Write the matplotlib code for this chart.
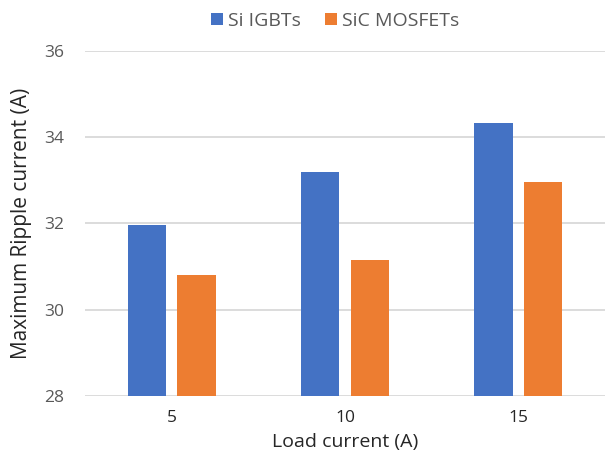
import numpy as np
import matplotlib.pyplot as plt

plt.rcParams['font.family'] = ['Open Sans', 'DejaVu Sans']

# Maximum ripple current for each load current
loads = ['5', '10', '15']
si_igbt = [31.96, 33.20, 34.33]
sic_mosfet = [30.80, 31.15, 32.95]

fig = plt.figure(figsize=(6.05, 4.58), dpi=100)
ax = fig.add_axes([0.1405, 0.1354, 0.8595, 0.7539])

x = np.arange(len(loads))
w = 0.221
ax.bar(x - 0.143, np.array(si_igbt) - 28, w, bottom=28, color='#4472C4', label='Si IGBTs', zorder=3)
ax.bar(x + 0.143, np.array(sic_mosfet) - 28, w, bottom=28, color='#ED7D31', label='SiC MOSFETs', zorder=3)

ax.set_xlim(-0.5, 2.5)
ax.set_ylim(28, 36)
ax.set_yticks([28, 30, 32, 34, 36])
ax.set_xticks(x)
ax.set_xticklabels(loads)
ax.tick_params(axis='y', length=0, labelsize=12.5, labelcolor='#595959', pad=15)
ax.tick_params(axis='x', length=0, labelsize=12.5, labelcolor='#262626', pad=10)
ax.grid(axis='y', color='#D9D9D9', linewidth=1.3, zorder=0)
for s in ax.spines.values():
    s.set_visible(False)

ax.set_xlabel('Load current (A)', fontsize=14, color='#262626', labelpad=5)
ax.set_ylabel('Maximum Ripple current (A)', fontsize=15, color='#262626', labelpad=9)

fig.legend(loc='upper center', bbox_to_anchor=(0.554, 1.0), ncol=2, frameon=False,
           fontsize=14, handlelength=0.62, handleheight=0.62, handletextpad=0.26,
           columnspacing=1.24, labelcolor='#595959', borderaxespad=0.2)

fig.savefig('out.png', dpi=100)
